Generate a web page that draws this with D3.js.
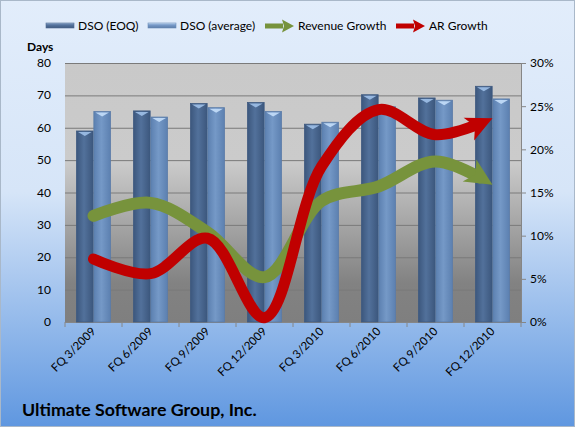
<!DOCTYPE html>
<html>
<head>
    <title>Ultimate Software DSO</title>
</head>
<body style="margin:0">
<style type="text/css">
    body { background: #fff; }
    #renderer { width: 575px; height: 427px; display: block; }
    text { font-family: Lato, "Open Sans", sans-serif; fill: #000; }
</style>
<script type="text/javascript" src="https://cdnjs.cloudflare.com/ajax/libs/d3/7.8.5/d3.min.js"></script>
<svg id='renderer'></svg>

<script type="text/javascript">
    // data
    var categories = ['FQ 3/2009', 'FQ 6/2009', 'FQ 9/2009', 'FQ 12/2009', 'FQ 3/2010', 'FQ 6/2010', 'FQ 9/2010', 'FQ 12/2010'];
    var dsoEoq = [59, 65.2, 67.5, 67.8, 61.1, 70.2, 69.2, 72.8];
    var dsoAvg = [65, 63.3, 66.2, 65, 61.7, 66.5, 68.5, 68.9];
    var revenueGrowth = [12.3, 13.8, 10.4, 5.2, 14, 15.7, 18.6, 15.9];
    var arGrowth = [7.3, 5.6, 9.7, 0.5, 18, 24.6, 21.7, 23.6];
    var daysTicks = [0, 10, 20, 30, 40, 50, 60, 70, 80];
    var pctTicks = [0, 5, 10, 15, 20, 25, 30];

    var root = d3.select('#renderer');
    var totalWidth = 575, totalHeight = 427;
    var plotLeft = 65, plotRight = 521, plotTop = 63, plotBottom = 322;

    var defs = root.append('defs');

    // background gradient of the whole chart
    var bg = defs.append('linearGradient').attr('id', 'bgGrad').attr('x1', 0).attr('y1', 0).attr('x2', 0).attr('y2', 1);
    bg.append('stop').attr('offset', '0%').attr('stop-color', '#e2edfb');
    bg.append('stop').attr('offset', '45%').attr('stop-color', '#d6e5f8');
    bg.append('stop').attr('offset', '100%').attr('stop-color', '#5f97e0');

    // plot area gradient
    var pg = defs.append('linearGradient').attr('id', 'plotGrad').attr('x1', 0).attr('y1', 0).attr('x2', 0).attr('y2', 1);
    pg.append('stop').attr('offset', '0%').attr('stop-color', '#c9c9c9');
    pg.append('stop').attr('offset', '38%').attr('stop-color', '#cbcbcb');
    pg.append('stop').attr('offset', '85%').attr('stop-color', '#828282');
    pg.append('stop').attr('offset', '100%').attr('stop-color', '#7f7f7f');

    // cylinder gradients for bars
    function barGradient(id, edge, mid) {
        var g = defs.append('linearGradient').attr('id', id).attr('x1', 0).attr('y1', 0).attr('x2', 1).attr('y2', 0);
        g.append('stop').attr('offset', '0%').attr('stop-color', edge);
        g.append('stop').attr('offset', '45%').attr('stop-color', mid);
        g.append('stop').attr('offset', '100%').attr('stop-color', edge);
    }
    barGradient('eoqGrad', '#3c577d', '#52719b');
    barGradient('avgGrad', '#5c80b0', '#7599c7');

    root.append('rect')
        .attr('x', 0.5).attr('y', 0.5)
        .attr('width', totalWidth - 1).attr('height', totalHeight - 1)
        .attr('fill', 'url(#bgGrad)')
        .attr('stroke', '#a9b8c9');

    // scales
    var x0 = d3.scaleBand().domain(categories).range([plotLeft, plotRight]);
    var groupWidth = 34;
    var x1 = d3.scaleBand().domain(['eoq', 'avg']).range([0, groupWidth]).paddingInner(0.04);
    var yDays = d3.scaleLinear().domain([0, 80]).range([plotBottom, plotTop]);
    var yPct = d3.scaleLinear().domain([0, 30]).range([plotBottom, plotTop]);

    root.append('rect')
        .attr('x', plotLeft).attr('y', plotTop)
        .attr('width', plotRight - plotLeft).attr('height', plotBottom - plotTop)
        .attr('fill', 'url(#plotGrad)');

    // horizontal grid
    root.selectAll('.grid').data(daysTicks).enter().append('line')
        .attr('x1', plotLeft).attr('x2', plotRight)
        .attr('y1', function (d) { return yDays(d) + 0.5; })
        .attr('y2', function (d) { return yDays(d) + 0.5; })
        .attr('stroke', '#7a7a7a').attr('stroke-width', 1);

    // left axis labels
    root.selectAll('.ly').data(daysTicks).enter().append('text')
        .text(function (d) { return d; })
        .attr('x', 51).attr('y', function (d) { return yDays(d) + 4; })
        .attr('text-anchor', 'end').attr('font-size', 12);

    root.append('text').text('Days')
        .attr('x', 27).attr('y', 51)
        .attr('font-size', 12).attr('font-weight', 'bold');

    // right axis
    var rightAxis = root.append('g')
        .attr('transform', 'translate(' + plotRight + ',0)')
        .call(d3.axisRight(yPct).tickValues(pctTicks).tickSize(5).tickPadding(4)
            .tickFormat(function (d) { return d + '%'; }));
    rightAxis.select('.domain').attr('stroke', '#868686');
    rightAxis.selectAll('.tick line').attr('stroke', '#868686');
    rightAxis.selectAll('text').attr('font-size', 12).attr('font-family', 'Lato, sans-serif').attr('fill', '#000');

    // bottom axis line and ticks at band edges
    root.append('line')
        .attr('x1', plotLeft).attr('x2', plotRight).attr('y1', plotBottom + 0.5).attr('y2', plotBottom + 0.5)
        .attr('stroke', '#868686');
    var edges = categories.map(function (c) { return x0(c); }).concat([plotRight]);
    root.selectAll('.xt').data(edges).enter().append('line')
        .attr('x1', function (d) { return d; }).attr('x2', function (d) { return d; })
        .attr('y1', plotBottom).attr('y2', plotBottom + 5)
        .attr('stroke', '#868686');

    root.selectAll('.xl').data(categories).enter().append('text')
        .text(function (d) { return d; })
        .attr('font-size', 11.5)
        .attr('text-anchor', 'end')
        .attr('transform', function (d) {
            var cx = x0(d) + x0.bandwidth() / 2 + 3;
            return 'translate(' + cx + ',' + (plotBottom + 10) + ') rotate(-45)';
        });

    // bars
    var series = [
        {key: 'eoq', values: dsoEoq, fill: 'url(#eoqGrad)', stroke: '#3f5a80', cap: '#9fc0e8'},
        {key: 'avg', values: dsoAvg, fill: 'url(#avgGrad)', stroke: '#5b7ca8', cap: '#c4defa'}
    ];
    var offset = (x0.bandwidth() - groupWidth) / 2;
    series.forEach(function (s) {
        categories.forEach(function (c, i) {
            var bx = x0(c) + offset + x1(s.key);
            var bw = x1.bandwidth();
            var by = yDays(s.values[i]);
            root.append('rect')
                .attr('x', bx).attr('y', by)
                .attr('width', bw).attr('height', plotBottom - by)
                .attr('fill', s.fill)
                .attr('stroke', s.stroke).attr('stroke-width', 0.8);
            // little cap at the top of each cylinder
            root.append('path')
                .attr('d', 'M' + (bx + 1.5) + ',' + (by + 1) + 'L' + (bx + bw - 1.5) + ',' + (by + 1) +
                    'L' + (bx + bw / 2) + ',' + (by + 5) + 'Z')
                .attr('fill', s.cap).attr('opacity', 0.9);
        });
    });

    // growth lines with arrow heads
    function arrowMarker(id, color, len, half) {
        defs.append('marker')
            .attr('id', id)
            .attr('markerUnits', 'userSpaceOnUse')
            .attr('viewBox', (-len - 2) + ' ' + (-half - 2) + ' ' + (len + 4) + ' ' + (2 * half + 4))
            .attr('refX', 0).attr('refY', 0)
            .attr('markerWidth', len + 4).attr('markerHeight', 2 * half + 4)
            .attr('orient', 'auto')
            .append('path')
            .attr('d', 'M0,0L' + (-len) + ',' + (-half) + 'L' + (-len * 0.74) + ',0L' + (-len) + ',' + half + 'Z')
            .attr('fill', color);
    }
    arrowMarker('arrowGreen', '#77933c', 27, 13);
    arrowMarker('arrowRed', '#c00000', 26, 12.5);

    var cx = function (i) { return x0(categories[i]) + x0.bandwidth() / 2; };

    function drawGrowth(values, color, width, marker) {
        var line = d3.line()
            .x(function (d, i) { return cx(i); })
            .y(function (d) { return yPct(d); })
            .curve(d3.curveCatmullRom.alpha(0.5));
        var path = root.append('path')
            .attr('d', line(values))
            .attr('fill', 'none')
            .attr('stroke', color)
            .attr('stroke-width', width)
            .attr('stroke-linecap', 'round')
            .attr('marker-end', 'url(#' + marker + ')');
        var total = path.node().getTotalLength();
        path.attr('stroke-dasharray', (total - 15) + ',' + (total + 50));
    }
    drawGrowth(revenueGrowth, '#77933c', 12, 'arrowGreen');
    drawGrowth(arGrowth, '#c00000', 11, 'arrowRed');

    // legend
    var legend = root.append('g');
    defs.append('linearGradient').attr('id', 'legEoq').attr('x1', 0).attr('y1', 0).attr('x2', 0).attr('y2', 1)
        .call(function (g) {
            g.append('stop').attr('offset', '0%').attr('stop-color', '#9fb8d8');
            g.append('stop').attr('offset', '35%').attr('stop-color', '#5675a0');
            g.append('stop').attr('offset', '100%').attr('stop-color', '#3f5a80');
        });
    defs.append('linearGradient').attr('id', 'legAvg').attr('x1', 0).attr('y1', 0).attr('x2', 0).attr('y2', 1)
        .call(function (g) {
            g.append('stop').attr('offset', '0%').attr('stop-color', '#d5e7fb');
            g.append('stop').attr('offset', '35%').attr('stop-color', '#7a9dcb');
            g.append('stop').attr('offset', '100%').attr('stop-color', '#5b7ca8');
        });
    legend.append('rect').attr('x', 46).attr('y', 23).attr('width', 28).attr('height', 5)
        .attr('fill', 'url(#legEoq)').attr('stroke', '#4d6a92').attr('stroke-width', 0.6);
    legend.append('text').text('DSO (EOQ)').attr('x', 78).attr('y', 30).attr('font-size', 12);
    legend.append('rect').attr('x', 148).attr('y', 23).attr('width', 28).attr('height', 5)
        .attr('fill', 'url(#legAvg)').attr('stroke', '#6a8cb8').attr('stroke-width', 0.6);
    legend.append('text').text('DSO (average)').attr('x', 180).attr('y', 30).attr('font-size', 12);

    function legendArrow(x, color) {
        legend.append('line').attr('x1', x).attr('x2', x + 18).attr('y1', 26).attr('y2', 26)
            .attr('stroke', color).attr('stroke-width', 5);
        legend.append('path')
            .attr('d', 'M' + (x + 29) + ',26L' + (x + 17) + ',19.5L' + (x + 19) + ',26L' + (x + 17) + ',32.5Z')
            .attr('fill', color);
    }
    legendArrow(265, '#77933c');
    legend.append('text').text('Revenue Growth').attr('x', 298).attr('y', 30).attr('font-size', 12);
    legendArrow(396, '#c00000');
    legend.append('text').text('AR Growth').attr('x', 429).attr('y', 30).attr('font-size', 12);

    // company name
    root.append('text').text('Ultimate Software Group, Inc.')
        .attr('x', 22).attr('y', 416)
        .attr('font-size', 17.8).attr('font-weight', 'bold');
</script>
</body>
</html>
